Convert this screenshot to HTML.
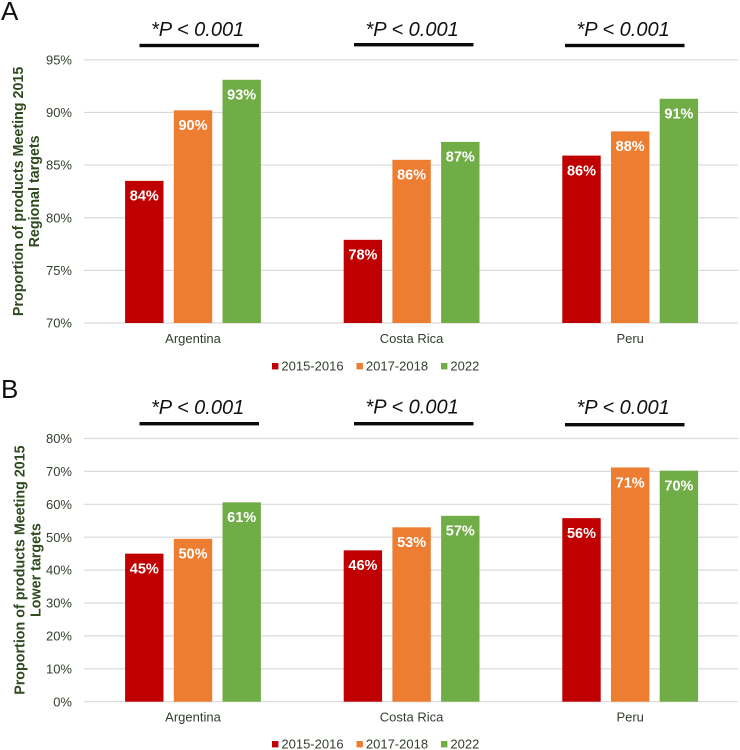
<!DOCTYPE html>
<html>
<head>
<meta charset="utf-8">
<title>Proportion of products meeting 2015 targets</title>
<style>
html,body{margin:0;padding:0;background:#fff;width:740px;height:750px;overflow:hidden}
svg{display:block}
text{font-family:"Liberation Sans",Arial,sans-serif}
</style>
</head>
<body>
<svg id="chart" xmlns="http://www.w3.org/2000/svg" width="740" height="750" viewBox="0 0 740 750">
  <text x="1" y="20" font-size="26" fill="#111">A</text>
  <text x="1" y="398" font-size="26" fill="#111">B</text>
  <g id="layer"></g>
</svg>
<script>
const categories = ['Argentina', 'Costa Rica', 'Peru'];
const seriesNames = ['2015-2016', '2017-2018', '2022'];
const seriesColors = ['#c00000', '#ed7d31', '#70ad47'];

const panelATicks = [70, 75, 80, 85, 90, 95];
const panelA2015 = [83.5, 77.9, 85.9];
const panelA2017 = [90.2, 85.5, 88.2];
const panelA2022 = [93.1, 87.2, 91.3];
const panelALabels2015 = ['84%', '78%', '86%'];
const panelALabels2017 = ['90%', '86%', '88%'];
const panelALabels2022 = ['93%', '87%', '91%'];

const panelBTicks = [0, 10, 20, 30, 40, 50, 60, 70, 80];
const panelB2015 = [45.0, 46.0, 55.8];
const panelB2017 = [49.5, 53.0, 71.2];
const panelB2022 = [60.6, 56.5, 70.2];
const panelBLabels2015 = ['45%', '46%', '56%'];
const panelBLabels2017 = ['50%', '53%', '71%'];
const panelBLabels2022 = ['61%', '57%', '70%'];

const pValueText = '*P < 0.001';

const NS = 'http://www.w3.org/2000/svg';
const layer = document.getElementById('layer');

function make(tag, attrs, parent, text) {
  const el = document.createElementNS(NS, tag);
  for (const k in attrs) el.setAttribute(k, attrs[k]);
  if (text !== undefined) el.textContent = text;
  parent.appendChild(el);
  return el;
}

function drawPanel(cfg) {
  const g = make('g', {}, layer);
  
  

  const min = cfg.ticks[0];
  const max = cfg.ticks[cfg.ticks.length - 1];
  const yScale = v => cfg.bottom - (v - min) / (max - min) * (cfg.bottom - cfg.top);
  const plotLeft = 84, plotRight = 738, step = 218.6, firstCenter = 193;
  const xCenter = i => firstCenter + i * step;
  const barW = 38.4, pitch = 48.7;

  cfg.ticks.forEach(t => {
    const line = make('line', {x1: plotLeft, x2: plotRight, y1: yScale(t), y2: yScale(t), stroke: '#d9d9d9', 'stroke-width': 1.2}, g);
    
    
    const lab = make('text', {x: 72, y: yScale(t) + 4.6, 'text-anchor': 'end', 'font-size': 13, fill: '#333f2e'}, g, t + '%');
    
    
  });

  cfg.series.forEach((vals, s) => {
    vals.forEach((v, i) => {
      const cx = xCenter(i) + (s - 1) * pitch;
      const y = yScale(v);
      const bar = make('rect', {x: cx - barW / 2, y: y, width: barW, height: cfg.bottom - y, fill: seriesColors[s]}, g);
      
      
      const lab = make('text', {x: cx, y: y + 19.8, 'text-anchor': 'middle', 'font-size': 14.5, 'font-weight': 'bold', fill: '#fff'}, g, cfg.labels[s][i]);
      
      
    });
  });

  categories.forEach((c, i) => {
    const lab = make('text', {x: xCenter(i), y: cfg.bottom + 20, 'text-anchor': 'middle', 'font-size': 13, fill: '#333f2e'}, g, c);
    
    
  });

  const titleY = (cfg.top + cfg.bottom) / 2;
  const t1 = make('text', {transform: 'translate(' + cfg.titleX1 + ' ' + titleY + ') rotate(-90)', 'text-anchor': 'middle', 'font-size': 14.3, 'font-weight': 'bold', fill: '#2f4a1e'}, g, 'Proportion of products Meeting 2015');
  
  
  const t2 = make('text', {transform: 'translate(' + cfg.titleX2 + ' ' + titleY + ') rotate(-90)', 'text-anchor': 'middle', 'font-size': 14.3, 'font-weight': 'bold', fill: '#2f4a1e'}, g, cfg.subtitle);
  
  

  cfg.pBars.forEach(p => {
    const txt = make('text', {x: p[0] + 11.5, y: p[2], 'font-size': 20, 'font-style': 'italic', fill: '#111'}, g, pValueText);
    
    
    const bar = make('rect', {x: p[0], y: p[1], width: 119.5, height: 3.4, fill: '#0a0a0a'}, g);
    
    
  });

  const legendX = [272, 356.5, 441];
  seriesNames.forEach((n, s) => {
    const sw = make('rect', {x: legendX[s], y: cfg.legendY - 3, width: 6.4, height: 6.4, fill: seriesColors[s]}, g);
    
    
    const lab = make('text', {x: legendX[s] + 9.4, y: cfg.legendY + 4.6, 'font-size': 13, fill: '#333f2e'}, g, n);
    
    
  });
}

drawPanel({
  id: 'a', ticks: panelATicks, top: 59.8, bottom: 323,
  series: [panelA2015, panelA2017, panelA2022],
  labels: [panelALabels2015, panelALabels2017, panelALabels2022],
  subtitle: 'Regional targets', titleX1: 23, titleX2: 39, legendY: 366,
  pBars: [[139.5, 43.8, 36], [354, 43, 36], [565, 43.8, 36]]
});
drawPanel({
  id: 'b', ticks: panelBTicks, top: 438.5, bottom: 701.7,
  series: [panelB2015, panelB2017, panelB2022],
  labels: [panelBLabels2015, panelBLabels2017, panelBLabels2022],
  subtitle: 'Lower targets', titleX1: 24.5, titleX2: 40.5, legendY: 744,
  pBars: [[139.5, 422, 414], [354, 422, 413.5], [565, 423, 414]]
});
</script>
</body>
</html>
